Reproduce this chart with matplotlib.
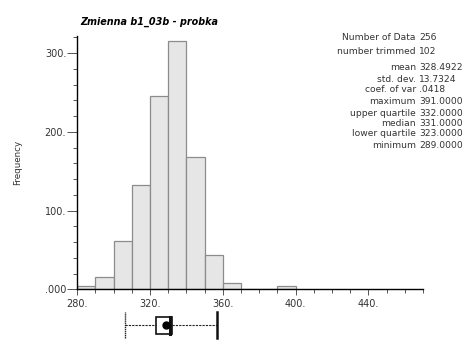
import numpy as np
import matplotlib.pyplot as plt
from matplotlib.ticker import MultipleLocator, FuncFormatter

# histogram bins (width 10) and counts
bin_edges = [280, 290, 300, 310, 320, 330, 340, 350, 360, 370, 380, 390, 400]
counts = [4, 16, 62, 133, 246, 316, 168, 43, 8, 0, 0, 4]

# box plot summary
whisk_lo, q1, median, mean, q3, whisk_hi = 306, 323, 331, 328.5, 332, 357

stat_names = ["Number of Data", "number trimmed", "mean", "std. dev.", "coef. of var",
              "maximum", "upper quartile", "median", "lower quartile", "minimum"]
stat_vals = ["256", "102", "328.4922", "13.7324", ".0418",
             "391.0000", "332.0000", "331.0000", "323.0000", "289.0000"]
stat_y = [37, 52, 68, 79, 90, 102, 113, 124, 134, 145]

W, H = 476, 360
fig = plt.figure(figsize=(W / 100, H / 100), dpi=100)
ax = fig.add_axes([77.3 / W, 1 - 289.3 / H, 345.7 / W, 253.4 / H])

lefts = np.array(bin_edges[:-1])
ax.bar(lefts, counts, width=10, align='edge', color='#e6e6e6',
       edgecolor='#8c8c8c', linewidth=0.9)

ax.set_xlim(280, 470)
ax.set_ylim(0, 322)
for s in ['top', 'right']:
    ax.spines[s].set_visible(False)
ax.spines['left'].set_linewidth(1.0)
ax.spines['bottom'].set_linewidth(1.0)

ax.xaxis.set_major_locator(MultipleLocator(40))
ax.xaxis.set_minor_locator(MultipleLocator(10))
ax.yaxis.set_major_locator(MultipleLocator(100))
ax.yaxis.set_minor_locator(MultipleLocator(20))
ax.xaxis.set_major_formatter(FuncFormatter(lambda v, p: "%d." % v))
ax.yaxis.set_major_formatter(FuncFormatter(lambda v, p: ".000" if v == 0 else "%d." % v))
ax.tick_params(axis='both', which='major', labelsize=7, labelcolor='#333333',
               color='#555555', width=0.7, length=7, pad=1)
ax.tick_params(axis='both', which='minor', color='#555555', width=0.7, length=3)
ax.tick_params(axis='x', which='major', length=4, pad=3)

ax.set_ylabel("Frequency", fontsize=6.3, color='#333333', labelpad=0)
ax.yaxis.set_label_coords(-0.16, 0.5)

fig.text(80 / W, 1 - 22 / H, "Zmienna b1_03b - probka", fontsize=6.9,
         fontweight='bold', fontstyle='italic', va='center', ha='left')

for name, val, y in zip(stat_names, stat_vals, stat_y):
    fig.text(416 / W, 1 - y / H, name, fontsize=6.6, ha='right', va='center', color='#333333')
    fig.text(419 / W, 1 - y / H, val, fontsize=6.6, ha='left', va='center', color='#333333')

# box plot below the histogram
bx = fig.add_axes([77.3 / W, 1 - 340 / H, 345.7 / W, 30 / H])
bx.set_xlim(280, 470)
bx.set_ylim(0, 30)
bx.axis('off')
yc = 15
bx.plot([whisk_lo, q1], [yc, yc], color='#222222', lw=0.8, ls=(0, (2, 1)))
bx.plot([q3, whisk_hi], [yc, yc], color='#222222', lw=0.8, ls=(0, (2, 1)))
bx.plot([whisk_lo, whisk_lo], [2, 28], color='#222222', lw=1.0, ls=(0, (1, 0.5)))
bx.plot([whisk_hi, whisk_hi], [2, 28], color='#111111', lw=1.8)
bx.add_patch(plt.Rectangle((q1, 6), q3 - q1, 17, fill=False, edgecolor='#111111', lw=1.2))
bx.plot([median, median], [6, 23], color='#111111', lw=2.2)
bx.plot([mean], [yc], marker='o', color='black', ms=5)

fig.savefig('out.png', dpi=100)
